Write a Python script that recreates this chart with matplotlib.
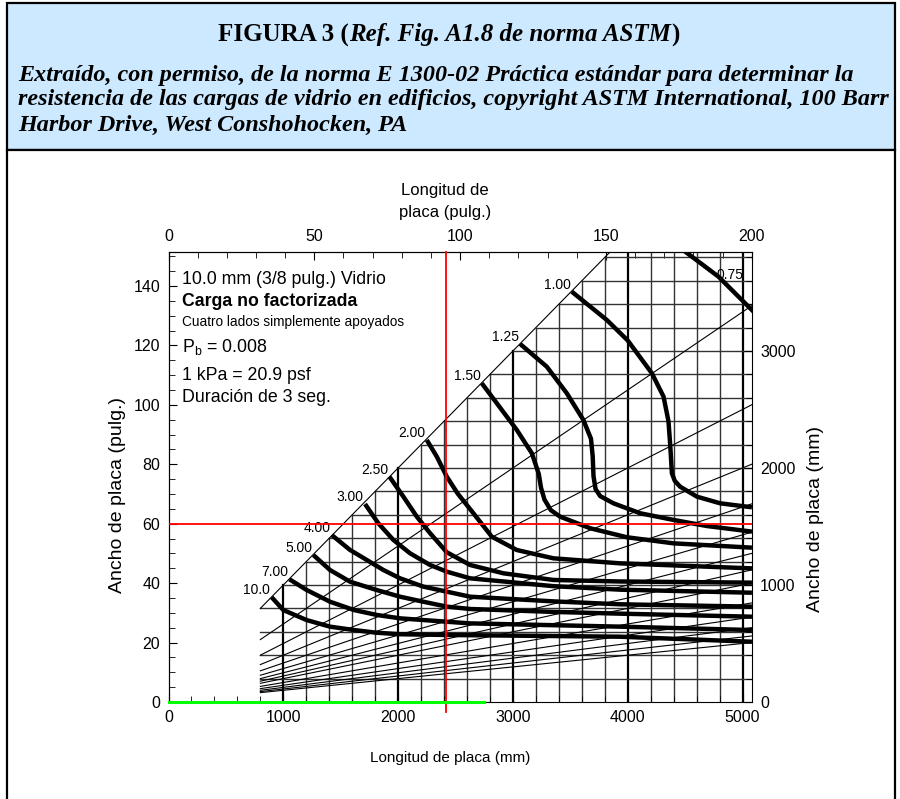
import numpy as np
import matplotlib
matplotlib.use('Agg')
import matplotlib.pyplot as plt
from matplotlib.patches import Rectangle
from matplotlib.transforms import IdentityTransform
from matplotlib.ticker import MultipleLocator, FixedLocator

plt.rcParams['font.family'] = ['Liberation Sans', 'DejaVu Sans']

MM = 25.4  # mm por pulgada

# curvas de carga (kPa): longitud x (mm), ancho y (mm)
c075_x = [4501, 4791, 5082]
c075_y = [3849, 3635, 3350]
c100_x = [3513, 3818, 4000, 4211, 4312, 4355, 4370, 4385, 4410, 4457, 4603, 4806, 5082]
c100_y = [3507, 3265, 3090, 2809, 2610, 2400, 2200, 1955, 1890, 1840, 1755, 1698, 1664]
c125_x = [3063, 3295, 3470, 3614, 3680, 3695, 3702, 3720, 3760, 3876, 4109, 4399, 4690, 5082]
c125_y = [3060, 2866, 2638, 2410, 2250, 2100, 1930, 1820, 1760, 1698, 1613, 1556, 1504, 1456]
c150_x = [2729, 2860, 3034, 3165, 3225, 3245, 3275, 3330, 3411, 3673, 3993, 4399, 5082]
c150_y = [2724, 2553, 2325, 2126, 1950, 1830, 1730, 1640, 1584, 1485, 1408, 1356, 1319]
c200_x = [2250, 2337, 2424, 2520, 2656, 2816, 3034, 3353, 3934, 5082]
c200_y = [2239, 2097, 1926, 1780, 1613, 1413, 1299, 1228, 1185, 1142]
c250_x = [1924, 2046, 2163, 2279, 2424, 2627, 2917, 3353, 3934, 5082]
c250_y = [1926, 1755, 1584, 1442, 1280, 1171, 1100, 1043, 1030, 1020]
c300_x = [1712, 1828, 1959, 2104, 2278, 2424, 2627, 3353, 3934, 5082]
c300_y = [1692, 1527, 1385, 1271, 1171, 1114, 1057, 990, 960, 934]
c400_x = [1422, 1582, 1727, 1872, 2017, 2220, 2424, 2627, 3353, 3934, 5082]
c400_y = [1427, 1299, 1214, 1128, 1057, 986, 943, 900, 860, 835, 815]
c500_x = [1262, 1407, 1582, 1814, 2017, 2220, 2424, 2627, 3353, 3934, 5082]
c500_y = [1256, 1128, 1028, 957, 900, 857, 815, 795, 770, 755, 729]
c700_x = [1053, 1204, 1407, 1616, 1814, 2017, 2424, 2627, 3934, 5082]
c700_y = [1049, 957, 857, 786, 744, 715, 686, 672, 644, 615]
c1000_x = [899, 1000, 1204, 1407, 1616, 1814, 2017, 2424, 3934, 5082]
c1000_y = [895, 786, 700, 644, 615, 592, 579, 573, 558, 515]

curves_x = [c100_x, c125_x, c150_x, c200_x, c250_x, c300_x, c400_x, c500_x, c700_x, c1000_x]
curves_y = [c100_y, c125_y, c150_y, c200_y, c250_y, c300_y, c400_y, c500_y, c700_y, c1000_y]
curve_labels = ['1.00', '1.25', '1.50', '2.00', '2.50', '3.00', '4.00', '5.00', '7.00', '10.0']

# relaciones de aspecto (lineas finas)
aspect_ratios = [1, 1.5, 2, 2.5, 3, 3.5, 4, 4.5, 5, 6, 7, 8, 9, 10]
fan_start = 800  # mm
grid_step = 200  # mm

# ticks
in_x_ticks = [0, 50, 100, 150, 200]
in_y_ticks = [0, 20, 40, 60, 80, 100, 120, 140]
mm_x_ticks = [0, 1000, 2000, 3000, 4000, 5000]
mm_y_ticks = [0, 1000, 2000, 3000]

x_max = 200 * MM     # 5080 mm
y_max = 3846         # mm
red_x_in = 95
red_y_in = 60
green_end = 2750     # mm

fig = plt.figure(figsize=(9, 7.99), dpi=100)
px = IdentityTransform()
H = 799

# recuadros
fig.patches.append(Rectangle((7, H - 150), 888, 147, transform=px, facecolor='#CCE9FF',
                             edgecolor='black', lw=1.6, zorder=-2))
fig.patches.append(Rectangle((7, -5), 888, H - 150 + 5, transform=px, facecolor='white',
                             edgecolor='black', lw=1.6, zorder=-2))

# titulo con estilos mezclados
r = fig.canvas.get_renderer()
parts = [('FIGURA 3 (', 'normal'), ('Ref. Fig. A1.8 de norma ASTM', 'italic'), (')', 'normal')]
tt = []
xx = 0
for s, st in parts:
    t = fig.text(xx, H - 35, s, transform=px, family='Liberation Serif', fontweight='bold',
                 fontstyle=st, fontsize=18, va='center', ha='left')
    w = t.get_window_extent(r).width
    tt.append((t, xx))
    xx += w
x0 = 449 - xx / 2
for t, off in tt:
    t.set_x(x0 + off)

sub = ['Extraído, con permiso, de la norma E 1300-02 Práctica estándar para determinar la',
       'resistencia de las cargas de vidrio en edificios, copyright ASTM International, 100 Barr',
       'Harbor Drive, West Conshohocken, PA']
for i, s in enumerate(sub):
    fig.text(18, H - 75 - 25 * i, s, transform=px, family='Liberation Serif', fontweight='bold',
             fontstyle='italic', fontsize=17.4, va='center', ha='left')

ax = fig.add_axes([168.5 / 900, 1 - 702 / H, (751.7 - 168.5) / 900, 450 / H])
ax.set_xlim(0, x_max)
ax.set_ylim(0, y_max)

# rejilla escalonada
for gx in np.arange(1000, 5001, grid_step):
    ax.plot([gx, gx], [0, min(gx, y_max)], color='black' if gx % 1000 == 0 else '#333333',
            lw=1.6 if gx % 1000 == 0 else 1.0, zorder=1)
for gy in np.arange(grid_step, 3801, grid_step):
    ax.plot([max(gy, fan_start), x_max], [gy, gy], color='#333333', lw=1.0, zorder=1)

# lineas de relacion de aspecto
for ar in aspect_ratios:
    ax.plot([fan_start, x_max], [fan_start / ar, x_max / ar], color='black', lw=0.8, zorder=2)

# curvas de carga
ax.plot(c075_x, c075_y, color='black', lw=3.2, solid_joinstyle='round', zorder=3)
ax.text(4893, 3650, '0.75', fontsize=10, ha='center', va='center', zorder=4)
for cx, cy, lab in zip(curves_x, curves_y, curve_labels):
    ax.plot(cx, cy, color='black', lw=3.2, solid_joinstyle='round', solid_capstyle='butt', zorder=3)
    ax.annotate(lab, (cx[0], cy[0]), xytext=(-1, 0), textcoords='offset points',
                fontsize=10, ha='right', va='bottom')

# lineas de referencia
ax.axvline(red_x_in * MM, ymin=-0.022, ymax=1, color='red', lw=1.3, clip_on=False, zorder=5)
ax.axhline(red_y_in * MM, color='red', lw=1.3, zorder=5)
ax.plot([0, green_end], [0, 0], color='#00FF00', lw=2.2, clip_on=False, zorder=6)

# ejes
ax.xaxis.set_major_locator(FixedLocator(mm_x_ticks))
ax.xaxis.set_minor_locator(MultipleLocator(200))
ax.yaxis.tick_right()
ax.yaxis.set_major_locator(FixedLocator(mm_y_ticks))
ax.yaxis.set_minor_locator(MultipleLocator(200))
ax.tick_params(which='both', direction='in', labelsize=11.5, pad=6)
ax.tick_params(which='major', length=6)
ax.tick_params(which='minor', length=4)

top = ax.secondary_xaxis('top', functions=(lambda v: v / MM, lambda v: v * MM))
top.set_xticks(in_x_ticks)
top.xaxis.set_minor_locator(MultipleLocator(10))
top.tick_params(which='both', direction='in', labelsize=11.5, pad=6)
top.tick_params(which='major', length=6)
top.tick_params(which='minor', length=4)

left = ax.secondary_yaxis('left', functions=(lambda v: v / MM, lambda v: v * MM))
left.set_yticks(in_y_ticks)
left.yaxis.set_minor_locator(MultipleLocator(5))
left.tick_params(which='both', direction='in', labelsize=11.5, pad=6)
left.tick_params(which='major', length=6)
left.tick_params(which='minor', length=4)

# etiquetas de ejes
fig.text(445, H - 190, 'Longitud de', transform=px, fontsize=12, ha='center', va='center')
fig.text(445, H - 213, 'placa (pulg.)', transform=px, fontsize=12, ha='center', va='center')
fig.text(117, H - 495, 'Ancho de placa (pulg.)', transform=px, fontsize=14, ha='center',
         va='center', rotation=90)
fig.text(816, H - 519, 'Ancho de placa (mm)', transform=px, fontsize=14, ha='center',
         va='center', rotation=90)
fig.text(450, H - 758, 'Longitud de placa (mm)', transform=px, fontsize=11, ha='center', va='center')

# notas
fig.text(182, H - 279, '10.0 mm (3/8 pulg.) Vidrio', transform=px, fontsize=12.8, va='center')
fig.text(182, H - 301, 'Carga no factorizada', transform=px, fontsize=12.7, fontweight='bold', va='center')
fig.text(182, H - 322, 'Cuatro lados simplemente apoyados', transform=px, fontsize=9.8, va='center')
fig.text(182, H - 347, r'P$_\mathregular{b}$ = 0.008', transform=px, fontsize=12.8, va='center')
fig.text(182, H - 376, '1 kPa = 20.9 psf', transform=px, fontsize=12.8, va='center')
fig.text(182, H - 398, 'Duración de 3 seg.', transform=px, fontsize=12.8, va='center')

fig.savefig('out.png', dpi=100)
